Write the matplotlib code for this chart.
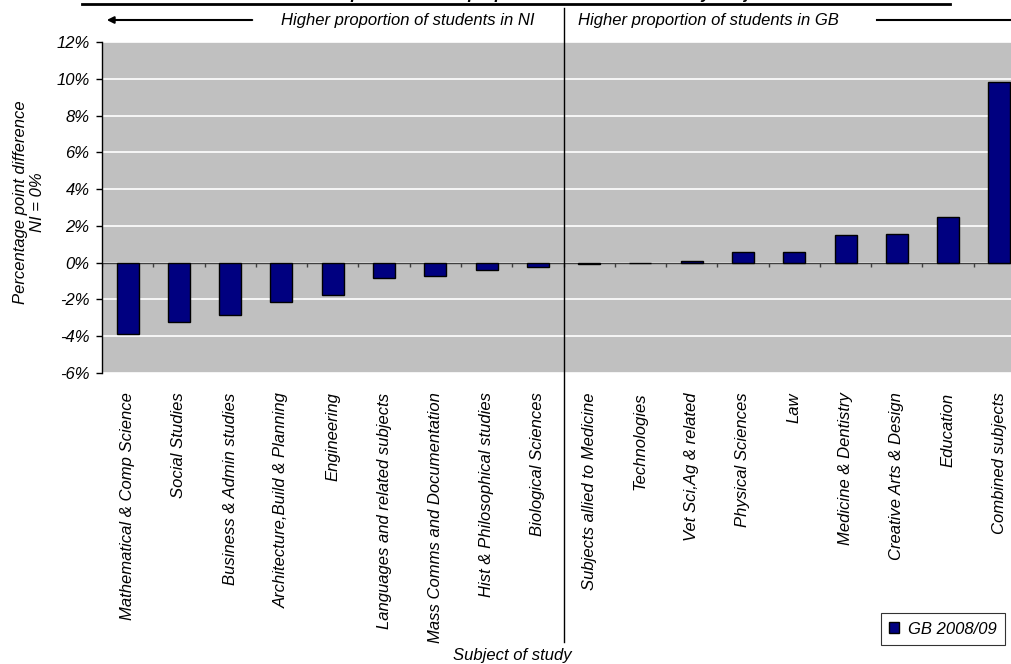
import matplotlib
matplotlib.use("Agg")
import matplotlib.pyplot as plt
import matplotlib.transforms as mtransforms
from matplotlib.lines import Line2D
from matplotlib.ticker import FuncFormatter
import numpy as np

plt.rcParams['font.family'] = ['Liberation Sans', 'DejaVu Sans']
plt.rcParams['font.style'] = 'italic'
plt.rcParams['axes.unicode_minus'] = False

subjects = [
    "Mathematical & Comp Science", "Social Studies", "Business & Admin studies",
    "Architecture,Build & Planning", "Engineering", "Languages and related subjects",
    "Mass Comms and Documentation", "Hist & Philosophical studies", "Biological Sciences",
    "Subjects allied to Medicine", "Technologies", "Vet Sci,Ag & related",
    "Physical Sciences", "Law", "Medicine & Dentistry", "Creative Arts & Design",
    "Education", "Combined subjects",
]
gb_diff = [-3.9, -3.25, -2.85, -2.15, -1.75, -0.85, -0.75, -0.42, -0.25,
           -0.08, 0.0, 0.1, 0.6, 0.6, 1.5, 1.57, 2.47, 9.8]
yticks = list(range(-6, 13, 2))
title = "Chart 8: GB compared with the proportion of students in NI by subject area"

W, H = 1011, 664
fig = plt.figure(figsize=(W / 100, H / 100), dpi=100)
ax_w = 1025 - 102
ax = fig.add_axes([102 / W, (H - 373) / H, ax_w / W, (373 - 42) / H])
ax.set_facecolor('#C0C0C0')

x = np.arange(len(subjects))
ax.bar(x, gb_diff, width=0.43, color='#000080', edgecolor='black', linewidth=1,
       label='GB 2008/09', zorder=3)

ax.set_xlim(-0.5, len(subjects) - 0.5)
ax.set_ylim(-6, 12)
ax.set_yticks(yticks)
ax.yaxis.set_major_formatter(FuncFormatter(lambda v, p: f"{v:.0f}%"))
for v in yticks:
    ax.axhline(v, color='white', linewidth=1.2, zorder=1)
ax.axhline(0, color='#404040', linewidth=1, zorder=2)

# small boundary ticks hanging below the zero line
bounds = np.arange(len(subjects) + 1) - 0.5
ax.vlines(bounds, -0.22, 0, color='#404040', linewidth=1, zorder=2)

for s in ['top', 'right', 'bottom']:
    ax.spines[s].set_visible(False)
ax.spines['left'].set_linewidth(1)
ax.tick_params(axis='y', length=4, width=1, labelsize=12, pad=5)
ax.set_xticks(x)
ax.set_xticklabels(subjects, rotation=90, fontsize=12)
ax.tick_params(axis='x', length=0, pad=14)

ax.set_ylabel("Percentage point difference\nNI = 0%", fontsize=12)
ax.yaxis.set_label_coords(-57 / ax_w, 0.515)
fig.text(512 / W, 1 - 660 / H, "Subject of study", ha='center', va='baseline',
         fontsize=12)

# divider between the NI and GB sides
trans = mtransforms.blended_transform_factory(ax.transData, fig.transFigure)
ax.add_line(Line2D([8.5, 8.5], [1 - 8 / H, 1 - 642 / H], transform=trans,
                   color='black', linewidth=1, clip_on=False))

fig.text(408 / W, 1 - 21 / H, "Higher proportion of students in NI", ha='center',
         va='center', fontsize=12)
fig.text(708 / W, 1 - 21 / H, "Higher proportion of students in GB", ha='center',
         va='center', fontsize=12)
fig.add_artist(plt.Annotation("", xy=(104 / W, 1 - 20 / H), xytext=(255 / W, 1 - 20 / H),
                              xycoords='figure fraction', textcoords='figure fraction',
                              arrowprops=dict(arrowstyle='-|>', color='black', lw=1.5,
                                              mutation_scale=10)))
fig.add_artist(Line2D([877 / W, 1.02], [1 - 20 / H, 1 - 20 / H], color='black',
                      linewidth=1.5, transform=fig.transFigure))

# title sits above the page edge, only its underline shows
fig.text(516 / W, 1 + 1 / H, title, ha='center', va='baseline', fontsize=12,
         fontweight='bold')
fig.add_artist(Line2D([82 / W, 950 / W], [1 - 4 / H, 1 - 4 / H], color='black',
                      linewidth=2, transform=fig.transFigure))

leg = ax.legend(loc='center', bbox_to_anchor=(943 / W, 1 - 629 / H),
                bbox_transform=fig.transFigure, frameon=True, fancybox=False,
                fontsize=12, handlelength=0.6, handleheight=0.6, handletextpad=0.5,
                borderpad=0.5)
leg.get_frame().set_edgecolor('black')
leg.get_frame().set_linewidth(0.8)

fig.savefig("out.png", dpi=100)
